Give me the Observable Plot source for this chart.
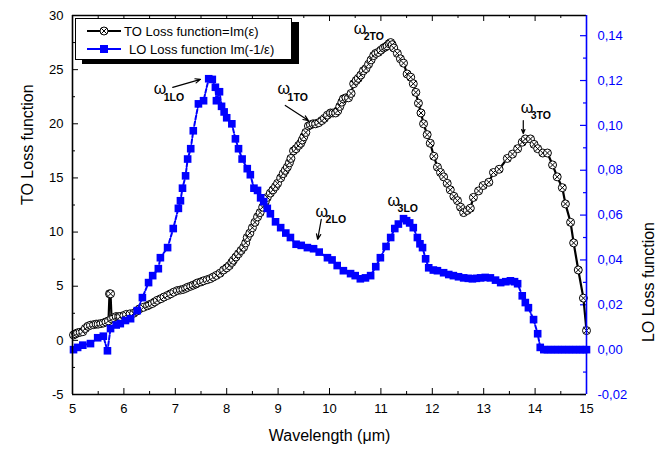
<!DOCTYPE html>
<html><head><meta charset="utf-8">
<script src="https://cdn.jsdelivr.net/npm/d3@7"></script>
<script src="https://cdn.jsdelivr.net/npm/@observablehq/plot@0.6"></script>
<style>
body{margin:0;background:#fff;font-family:Arial,"Liberation Sans",sans-serif}
#wrap{position:relative;width:672px;height:457px}
#legend{position:absolute;left:75px;top:18px;width:215px;height:40px;border:1px solid #000;background:#fff;box-shadow:7px 4px 0 #000;font-size:13px;color:#000}
#legend .row{position:absolute;left:0;height:16px;display:flex;align-items:center;white-space:nowrap}
#legend svg{display:block}
</style>
</head><body>
<div id="wrap"></div>
<script>
// ---------- data ----------
const toX = [5.02,5.06,5.1,5.15,5.2,5.25,5.3,5.35,5.41,5.46,5.5,5.55,5.6,5.65,5.7,5.72,5.74,5.76,5.8,5.85,
  5.9,5.93,6.0,6.05,6.12,6.19,6.25,6.3,6.38,6.46,6.5,6.55,6.6,6.65,6.72,6.78,6.85,6.91,6.97,7.04,
  7.1,7.15,7.2,7.24,7.3,7.35,7.4,7.43,7.5,7.55,7.62,7.68,7.74,7.8,7.87,7.94,8.0,8.05,8.1,8.13,
  8.18,8.23,8.28,8.33,8.37,8.4,8.45,8.5,8.55,8.6,8.65,8.7,8.75,8.79,8.85,8.9,8.95,8.99,9.05,9.1,
  9.14,9.18,9.22,9.25,9.3,9.35,9.4,9.44,9.47,9.5,9.54,9.59,9.63,9.68,9.73,9.79,9.85,9.9,9.96,10.02,
  10.07,10.12,10.16,10.2,10.24,10.27,10.32,10.37,10.42,10.47,10.52,10.56,10.61,10.66,10.71,10.76,10.81,10.86,10.9,10.95,
  11.0,11.05,11.09,11.12,11.16,11.19,11.22,11.25,11.32,11.38,11.44,11.51,11.58,11.63,11.68,11.73,11.78,11.83,11.9,11.96,
  12.03,12.1,12.16,12.22,12.29,12.35,12.42,12.49,12.55,12.61,12.68,12.74,12.8,12.9,12.99,13.1,13.19,13.3,13.46,13.56,
  13.66,13.75,13.81,13.91,13.98,14.05,14.15,14.24,14.34,14.43,14.53,14.59,14.69,14.75,14.84,14.94,15.0];
const toY = [0.5,0.6,0.7,0.75,0.8,1.1,1.3,1.4,1.45,1.5,1.5,1.55,1.6,1.7,1.8,4.3,4.3,2.0,2.1,2.2,
  2.2,2.2,2.3,2.4,2.45,2.5,2.7,2.9,3.05,3.2,3.3,3.4,3.55,3.7,3.85,4.0,4.15,4.3,4.45,4.6,
  4.65,4.7,4.8,4.9,5.0,5.1,5.2,5.3,5.4,5.5,5.6,5.7,5.85,6.0,6.2,6.5,6.7,6.9,7.2,7.4,
  7.7,8.0,8.3,8.6,9.0,9.5,9.9,10.4,10.9,11.4,11.8,12.3,12.8,13.2,13.6,13.9,14.2,14.5,15.0,15.4,
  15.7,16.0,16.4,16.8,17.5,17.7,18.0,18.2,18.5,18.8,19.2,19.8,19.9,20.0,20.0,20.1,20.3,20.5,20.8,21.0,
  21.0,21.0,21.2,21.6,22.0,22.3,22.4,22.4,22.8,23.7,24.0,24.2,24.5,24.9,25.1,25.5,25.9,26.3,26.5,26.6,
  26.8,27.0,27.1,27.2,27.4,27.5,27.3,27.0,26.5,26.0,25.6,24.6,24.3,23.7,22.9,21.9,21.0,20.0,19.0,18.2,
  17.0,16.0,15.5,15.1,14.5,13.9,13.3,12.9,12.3,11.8,12.0,12.2,13.2,13.8,14.3,14.6,15.5,15.8,16.8,17.2,
  17.7,18.3,18.6,18.6,18.1,17.7,17.3,17.3,16.2,15.1,14.1,12.6,10.9,9.0,6.5,3.9,0.9];

const loX = [5.02,5.1,5.2,5.35,5.49,5.6,5.68,5.74,5.85,5.93,6.03,6.13,6.26,6.36,6.48,6.56,6.67,6.71,6.85,6.96,
  7.06,7.1,7.14,7.2,7.24,7.3,7.35,7.45,7.55,7.65,7.72,7.78,7.8,7.86,7.9,7.95,8.0,8.1,8.17,8.23,
  8.3,8.4,8.46,8.53,8.6,8.66,8.72,8.79,8.85,8.95,9.05,9.15,9.24,9.35,9.45,9.57,9.69,9.8,9.96,10.05,
  10.15,10.27,10.41,10.5,10.6,10.7,10.8,10.9,10.99,11.1,11.19,11.27,11.34,11.44,11.5,11.56,11.63,11.71,11.76,11.81,
  11.87,11.93,12.02,12.1,12.22,12.32,12.41,12.51,12.61,12.7,12.78,12.86,12.94,13.03,13.13,13.23,13.33,13.43,13.52,13.6,
  13.66,13.75,13.81,13.87,13.97,14.05,14.1,14.17,14.24,14.31,14.38,14.45,14.52,14.59,14.66,14.73,14.8,14.87,14.94,15.0];
const loY = [0.000,0.001,0.002,0.0027,0.0053,0.006,-0.0005,0.0094,0.011,0.0116,0.013,0.0138,0.0174,0.0232,0.0299,0.033,0.0361,0.041,0.0455,0.054,
  0.063,0.0664,0.072,0.0775,0.085,0.0896,0.0976,0.1096,0.111,0.1208,0.1205,0.117,0.111,0.115,0.1085,0.106,0.1034,0.1007,0.094,0.0896,
  0.085,0.0807,0.078,0.072,0.071,0.0677,0.066,0.063,0.0606,0.057,0.0544,0.052,0.05,0.047,0.0465,0.0455,0.045,0.0435,0.041,0.040,
  0.0375,0.0352,0.0339,0.033,0.0316,0.032,0.033,0.037,0.041,0.046,0.05,0.054,0.056,0.0584,0.0575,0.0565,0.0544,0.05,0.0472,0.0455,
  0.0405,0.0365,0.0355,0.0352,0.0343,0.0335,0.033,0.0325,0.032,0.0318,0.0316,0.0318,0.032,0.0322,0.032,0.031,0.0299,0.0303,0.0307,0.0303,
  0.0294,0.024,0.021,0.0187,0.0134,0.0071,0.001,0,0,0,0,0,0,0,0,0,0,0,0,0];

const xTicks = [5,6,7,8,9,10,11,12,13,14,15];
const yTicks = [-5,0,5,10,15,20,25,30];
const loTicks = [-0.02,0,0.02,0.04,0.06,0.08,0.10,0.12,0.14];
const loTickLabels = ["-0,02","0,00","0,02","0,04","0,06","0,08","0,10","0,12","0,14"];
const xDomain = [5,15], yDomain = [-5,30], loDomain = [-0.02,0.149];

const annLabels = ["1LO","1TO","2LO","2TO","3TO","3LO"];
const annX = [6.58,8.99,9.73,10.47,13.72,11.13];
const annY = [23.2,23.2,11.9,28.8,21.5,12.9];
const arrX1 = [6.95,9.14,9.84,13.77], arrY1 = [23.36,21.7,11.17,20.3];
const arrX2 = [7.49,9.59,9.77,13.77], arrY2 = [24.1,20.3,9.33,19.1];

// ---------- helpers ----------
const toTO = v => yDomain[0] + (v - loDomain[0]) / (loDomain[1] - loDomain[0]) * (yDomain[1] - yDomain[0]);
const toData = toX.map((x,i) => ({x, y: toY[i]}));
const loData = loX.map((x,i) => ({x, y: toTO(loY[i])}));
const xMinor = xTicks.slice(0,-1).map(d => d + 0.5);
const yMinor = yTicks.slice(0,-1).map(d => d + 2.5);
const loMinor = loTicks.map(d => d + 0.01).filter(d => d < loDomain[1]);
const arrows = arrX1.map((d,i) => ({x1: d, y1: arrY1[i], x2: arrX2[i], y2: arrY2[i]}));

const circleX = {draw(ctx, size){
  const r = Math.sqrt(size/Math.PI), a = r*Math.SQRT1_2;
  ctx.moveTo(r,0); ctx.arc(0,0,r,0,2*Math.PI);
  ctx.moveTo(-a,-a); ctx.lineTo(a,a); ctx.moveTo(-a,a); ctx.lineTo(a,-a);
}};

const W = 672, H = 457, mL = 72, mR = 86, mT = 15, mB = 63;
const iW = W - mL - mR, iH = H - mT - mB;
const BLUE = "#0000ff";

const plot = Plot.plot({
  width: W, height: H, marginLeft: mL, marginRight: mR, marginTop: mT, marginBottom: mB,
  x: {domain: xDomain}, y: {domain: yDomain},
  style: {fontFamily: 'Arial, "Liberation Sans", sans-serif', fontSize: "13px", color: "#000", background: "#fff", overflow: "visible"},
  marks: [
    Plot.axisX({ticks: xTicks, tickSize: 0, tickPadding: 9, fontSize: 13, label: null, tickFormat: d => String(d)}),
    Plot.axisY({ticks: yTicks, tickSize: 0, tickPadding: 9, fontSize: 13, label: null, tickFormat: d => String(d)}),
    Plot.text(loTicks, {y: d => toTO(d), text: (d,i) => loTickLabels[i], frameAnchor: "right", textAnchor: "start", dx: 11, fill: BLUE, fontSize: 13}),
    // inward ticks
    Plot.tickX(xTicks, {x: d => d, insetTop: iH - 6, stroke: "#000", strokeWidth: 1}),
    Plot.tickX(xMinor, {x: d => d, insetTop: iH - 3, stroke: "#000", strokeWidth: 1}),
    Plot.tickX(xTicks, {x: d => d, insetBottom: iH - 6, stroke: "#000", strokeWidth: 1}),
    Plot.tickX(xMinor, {x: d => d, insetBottom: iH - 3, stroke: "#000", strokeWidth: 1}),
    Plot.tickY(yTicks, {y: d => d, insetRight: iW - 6, stroke: "#000", strokeWidth: 1}),
    Plot.tickY(yMinor, {y: d => d, insetRight: iW - 3, stroke: "#000", strokeWidth: 1}),
    Plot.tickY(loTicks, {y: d => toTO(d), insetLeft: iW - 6, stroke: BLUE, strokeWidth: 1.2}),
    Plot.tickY(loMinor, {y: d => toTO(d), insetLeft: iW - 3, stroke: BLUE, strokeWidth: 1.2}),
    // TO series
    Plot.line(toData, {x: "x", y: "y", stroke: "#000", strokeWidth: 2.2}),
    Plot.dot(toData, {x: "x", y: "y", symbol: circleX, r: 4, stroke: "#000", strokeWidth: 1, fill: "#fff"}),
    // LO series
    Plot.line(loData, {x: "x", y: "y", stroke: BLUE, strokeWidth: 2, strokeDasharray: "4,2"}),
    Plot.dot(loData, {x: "x", y: "y", symbol: "square", r: 4.3, fill: BLUE, stroke: null}),
    // annotations
    Plot.text(annLabels, {x: (d,i) => annX[i], y: (d,i) => annY[i], text: () => "ω", textAnchor: "start", fontSize: 16, fill: "#000"}),
    Plot.text(annLabels, {x: (d,i) => annX[i], y: (d,i) => annY[i], text: d => d, textAnchor: "start", dx: 10, dy: 8, fontSize: 10.5, fontWeight: "bold", fill: "#000"}),
    Plot.arrow(arrows, {x1: "x1", y1: "y1", x2: "x2", y2: "y2", stroke: "#000", strokeWidth: 1.2, headLength: 7, headAngle: 45}),
    // frame
    Plot.ruleX([xDomain[0]], {stroke: "#000", strokeWidth: 1.6}),
    Plot.ruleY([yDomain[0]], {stroke: "#000", strokeWidth: 1.6}),
    Plot.ruleY([yDomain[1]], {stroke: "#000", strokeWidth: 1.6}),
    Plot.ruleX([xDomain[1]], {stroke: BLUE, strokeWidth: 1.6}),
    // axis titles
    Plot.text(["Wavelength (μm)"], {frameAnchor: "bottom", dy: 46, fontSize: 16, fill: "#000"}),
    Plot.text(["TO Loss function"], {frameAnchor: "left", rotate: -90, dx: -45, fontSize: 16, fill: "#000"}),
    Plot.text(["LO Loss function"], {frameAnchor: "right", rotate: -90, dx: 62, dy: 17, fontSize: 16, fill: "#000"})
  ]
});
const wrap = document.getElementById("wrap");
wrap.appendChild(plot);

// legend
const legend = document.createElement("div");
legend.id = "legend";
legend.innerHTML = `
<div class="row" style="top:4px;left:11px">
  <svg width="34" height="12"><line x1="0" y1="6" x2="34" y2="6" stroke="#000" stroke-width="2.2"/>
  <circle cx="17" cy="6" r="4" fill="#fff" stroke="#000"/><path d="M14.2,3.2L19.8,8.8M14.2,8.8L19.8,3.2" stroke="#000"/></svg>
  <span style="margin-left:3px">TO Loss function=Im(ε)</span></div>
<div class="row" style="top:22px;left:11px">
  <svg width="34" height="12"><line x1="0" y1="6" x2="34" y2="6" stroke="${BLUE}" stroke-width="2.2"/>
  <rect x="13" y="2" width="8" height="8" fill="${BLUE}"/></svg>
  <span style="margin-left:8px">LO Loss function Im(-1/ε)</span></div>`;
wrap.appendChild(legend);
</script>
</body></html>
